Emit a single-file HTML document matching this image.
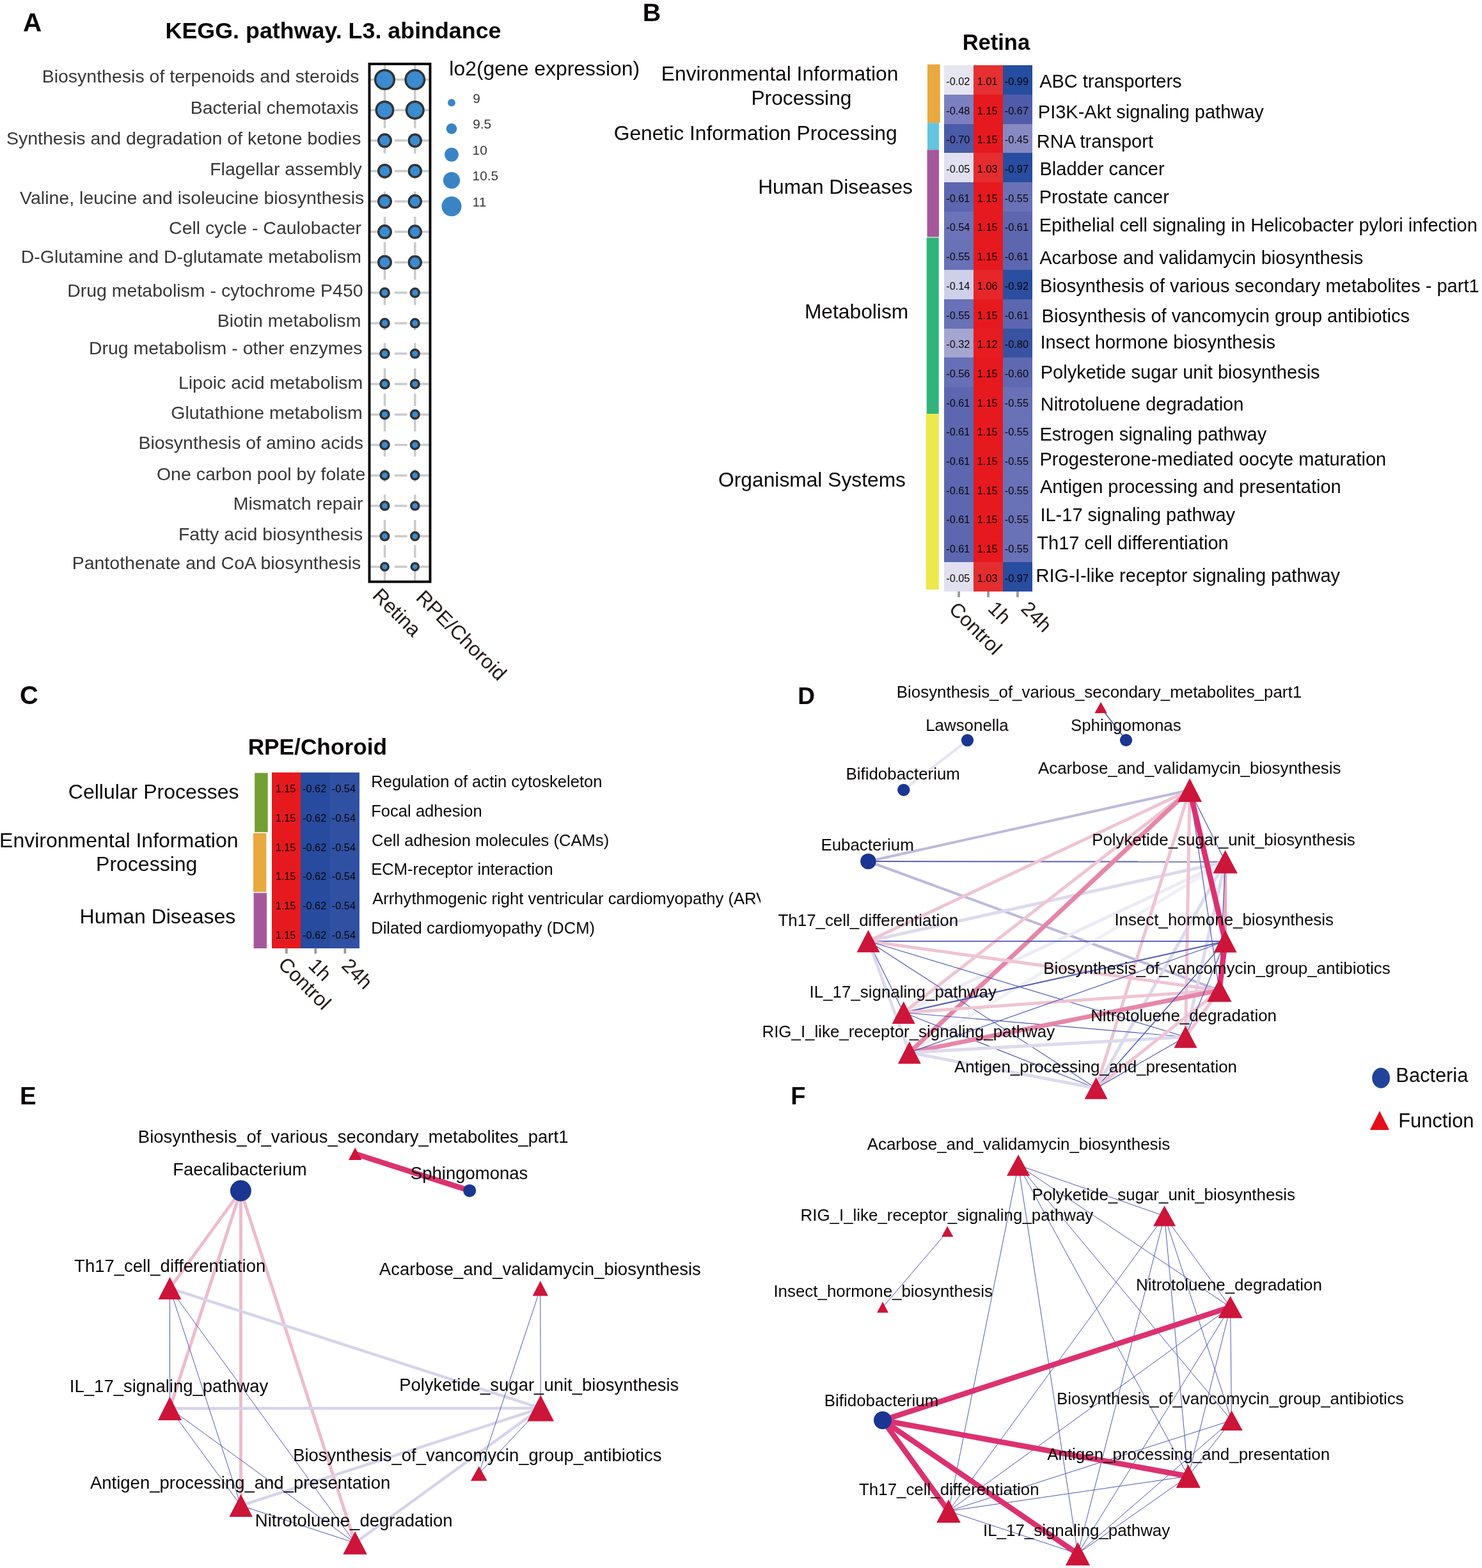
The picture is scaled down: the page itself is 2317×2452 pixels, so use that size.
<!DOCTYPE html>
<html><head><meta charset="utf-8"><title>KEGG pathway figure</title>
<style>
html,body{margin:0;padding:0;background:#fff;}
body{width:2317px;height:2452px;overflow:hidden;}
svg{display:block;font-family:"Liberation Sans",Arial,sans-serif;}
</style></head>
<body>
<svg width="2317" height="2452" viewBox="0 0 2317 2452">
<rect width="2317" height="2452" fill="#fff"/>
<text x="35.99" y="49.00" font-size="40.50" fill="#0a0606" font-weight="bold">A</text>
<text x="1004.86" y="32.80" font-size="39.50" fill="#0a0606" font-weight="bold">B</text>
<text x="30.96" y="1101.00" font-size="40.00" fill="#0a0606" font-weight="bold">C</text>
<text x="1247.22" y="1100.90" font-size="37.00" fill="#0a0606" font-weight="bold">D</text>
<text x="31.02" y="1726.80" font-size="38.50" fill="#0a0606" font-weight="bold">E</text>
<text x="1236.26" y="1726.70" font-size="38.00" fill="#0a0606" font-weight="bold">F</text>
<text x="258.60" y="60.00" font-size="35.85" fill="#0a0606" font-weight="bold">KEGG. pathway. L3. abindance</text>
<g stroke="#cbcbcb" stroke-width="3.5" stroke-dasharray="19.5 20" fill="none">
<line x1="601.50" y1="102.00" x2="601.50" y2="907.70"/>
<line x1="648.80" y1="102.00" x2="648.80" y2="907.70"/>
<line x1="577.50" y1="124.60" x2="670.50" y2="124.60"/>
<line x1="577.50" y1="172.20" x2="670.50" y2="172.20"/>
<line x1="577.50" y1="219.80" x2="670.50" y2="219.80"/>
<line x1="577.50" y1="267.40" x2="670.50" y2="267.40"/>
<line x1="577.50" y1="315.00" x2="670.50" y2="315.00"/>
<line x1="577.50" y1="362.60" x2="670.50" y2="362.60"/>
<line x1="577.50" y1="410.20" x2="670.50" y2="410.20"/>
<line x1="577.50" y1="457.80" x2="670.50" y2="457.80"/>
<line x1="577.50" y1="505.40" x2="670.50" y2="505.40"/>
<line x1="577.50" y1="553.00" x2="670.50" y2="553.00"/>
<line x1="577.50" y1="600.60" x2="670.50" y2="600.60"/>
<line x1="577.50" y1="648.20" x2="670.50" y2="648.20"/>
<line x1="577.50" y1="695.80" x2="670.50" y2="695.80"/>
<line x1="577.50" y1="743.40" x2="670.50" y2="743.40"/>
<line x1="577.50" y1="791.00" x2="670.50" y2="791.00"/>
<line x1="577.50" y1="838.60" x2="670.50" y2="838.60"/>
<line x1="577.50" y1="886.20" x2="670.50" y2="886.20"/>
</g>
<text x="65.66" y="129.00" font-size="28.50" fill="#373737">Biosynthesis of terpenoids and steroids</text>
<circle cx="601.50" cy="124.60" r="14.85" fill="#3a8bcf" stroke="#333333" stroke-width="3.5"/>
<circle cx="648.80" cy="124.60" r="14.75" fill="#3a8bcf" stroke="#333333" stroke-width="3.5"/>
<text x="297.66" y="178.00" font-size="28.50" fill="#373737">Bacterial chemotaxis</text>
<circle cx="601.50" cy="172.20" r="13.25" fill="#3a8bcf" stroke="#333333" stroke-width="3.5"/>
<circle cx="648.80" cy="172.20" r="13.25" fill="#3a8bcf" stroke="#333333" stroke-width="3.5"/>
<text x="9.96" y="226.00" font-size="28.50" fill="#373737">Synthesis and degradation of ketone bodies</text>
<circle cx="601.50" cy="219.80" r="9.75" fill="#3a8bcf" stroke="#333333" stroke-width="3.5"/>
<circle cx="648.80" cy="219.80" r="9.50" fill="#3a8bcf" stroke="#333333" stroke-width="3.5"/>
<text x="328.16" y="274.00" font-size="28.50" fill="#373737">Flagellar assembly</text>
<circle cx="601.50" cy="267.40" r="9.75" fill="#3a8bcf" stroke="#333333" stroke-width="3.5"/>
<circle cx="648.80" cy="267.40" r="9.50" fill="#3a8bcf" stroke="#333333" stroke-width="3.5"/>
<text x="31.12" y="319.00" font-size="28.50" fill="#373737">Valine, leucine and isoleucine biosynthesis</text>
<circle cx="601.50" cy="315.00" r="9.75" fill="#3a8bcf" stroke="#333333" stroke-width="3.5"/>
<circle cx="648.80" cy="315.00" r="9.50" fill="#3a8bcf" stroke="#333333" stroke-width="3.5"/>
<text x="264.05" y="366.00" font-size="28.50" fill="#373737">Cell cycle - Caulobacter</text>
<circle cx="601.50" cy="362.60" r="9.75" fill="#3a8bcf" stroke="#333333" stroke-width="3.5"/>
<circle cx="648.80" cy="362.60" r="9.50" fill="#3a8bcf" stroke="#333333" stroke-width="3.5"/>
<text x="32.66" y="411.25" font-size="28.50" fill="#373737">D-Glutamine and D-glutamate metabolism</text>
<circle cx="601.50" cy="410.20" r="9.75" fill="#3a8bcf" stroke="#333333" stroke-width="3.5"/>
<circle cx="648.80" cy="410.20" r="9.50" fill="#3a8bcf" stroke="#333333" stroke-width="3.5"/>
<text x="105.16" y="463.75" font-size="28.50" fill="#373737">Drug metabolism - cytochrome P450</text>
<circle cx="601.50" cy="457.80" r="6.75" fill="#3a8bcf" stroke="#333333" stroke-width="3.5"/>
<circle cx="648.80" cy="457.80" r="6.50" fill="#3a8bcf" stroke="#333333" stroke-width="3.5"/>
<text x="339.66" y="511.25" font-size="28.50" fill="#373737">Biotin metabolism</text>
<circle cx="601.50" cy="505.40" r="6.55" fill="#3a8bcf" stroke="#333333" stroke-width="3.5"/>
<circle cx="648.80" cy="505.40" r="6.35" fill="#3a8bcf" stroke="#333333" stroke-width="3.5"/>
<text x="138.91" y="553.75" font-size="28.50" fill="#373737">Drug metabolism - other enzymes</text>
<circle cx="601.50" cy="553.00" r="6.55" fill="#3a8bcf" stroke="#333333" stroke-width="3.5"/>
<circle cx="648.80" cy="553.00" r="6.35" fill="#3a8bcf" stroke="#333333" stroke-width="3.5"/>
<text x="278.91" y="607.50" font-size="28.50" fill="#373737">Lipoic acid metabolism</text>
<circle cx="601.50" cy="600.60" r="6.55" fill="#3a8bcf" stroke="#333333" stroke-width="3.5"/>
<circle cx="648.80" cy="600.60" r="6.35" fill="#3a8bcf" stroke="#333333" stroke-width="3.5"/>
<text x="267.32" y="654.50" font-size="28.50" fill="#373737">Glutathione metabolism</text>
<circle cx="601.50" cy="648.20" r="6.55" fill="#3a8bcf" stroke="#333333" stroke-width="3.5"/>
<circle cx="648.80" cy="648.20" r="6.35" fill="#3a8bcf" stroke="#333333" stroke-width="3.5"/>
<text x="216.41" y="701.75" font-size="28.50" fill="#373737">Biosynthesis of amino acids</text>
<circle cx="601.50" cy="695.80" r="6.55" fill="#3a8bcf" stroke="#333333" stroke-width="3.5"/>
<circle cx="648.80" cy="695.80" r="6.35" fill="#3a8bcf" stroke="#333333" stroke-width="3.5"/>
<text x="244.90" y="751.25" font-size="28.50" fill="#373737">One carbon pool by folate</text>
<circle cx="601.50" cy="743.40" r="6.25" fill="#3a8bcf" stroke="#333333" stroke-width="3.5"/>
<circle cx="648.80" cy="743.40" r="6.05" fill="#3a8bcf" stroke="#333333" stroke-width="3.5"/>
<text x="364.66" y="797.00" font-size="28.50" fill="#373737">Mismatch repair</text>
<circle cx="601.50" cy="791.00" r="6.25" fill="#3a8bcf" stroke="#333333" stroke-width="3.5"/>
<circle cx="648.80" cy="791.00" r="6.05" fill="#3a8bcf" stroke="#333333" stroke-width="3.5"/>
<text x="278.91" y="844.50" font-size="28.50" fill="#373737">Fatty acid biosynthesis</text>
<circle cx="601.50" cy="838.60" r="6.25" fill="#3a8bcf" stroke="#333333" stroke-width="3.5"/>
<circle cx="648.80" cy="838.60" r="6.05" fill="#3a8bcf" stroke="#333333" stroke-width="3.5"/>
<text x="112.66" y="889.50" font-size="28.50" fill="#373737">Pantothenate and CoA biosynthesis</text>
<circle cx="601.50" cy="886.20" r="5.75" fill="#3a8bcf" stroke="#333333" stroke-width="3.5"/>
<circle cx="648.80" cy="886.20" r="5.55" fill="#3a8bcf" stroke="#333333" stroke-width="3.5"/>
<rect x="577.50" y="100.00" width="95.00" height="809.70" fill="none" stroke="#000" stroke-width="3.9"/>
<text x="702.35" y="118.40" font-size="31.90" fill="#0a0606">lo2(gene expression)</text>
<circle cx="706" cy="160.60" r="5.95" fill="#3a84c6"/>
<text x="739.23" y="160.60" font-size="20.80" fill="#373737">9</text>
<circle cx="706" cy="201.30" r="8.35" fill="#3a84c6"/>
<text x="739.23" y="201.30" font-size="20.80" fill="#373737">9.5</text>
<circle cx="706" cy="241.80" r="10.90" fill="#3a84c6"/>
<text x="738.62" y="241.80" font-size="20.80" fill="#373737">10</text>
<circle cx="706" cy="282.00" r="13.10" fill="#3a84c6"/>
<text x="738.62" y="282.00" font-size="20.80" fill="#373737">10.5</text>
<circle cx="706" cy="322.80" r="15.50" fill="#3a84c6"/>
<text x="738.62" y="322.80" font-size="20.80" fill="#373737">11</text>
<text x="0" y="0" font-size="31.50" fill="#231815" transform="translate(580.80 933.10) rotate(45.0)">Retina</text>
<text x="0" y="0" font-size="31.50" fill="#231815" transform="translate(648.80 936.20) rotate(45.0)">RPE/Choroid</text>
<text x="1504.69" y="78.40" font-size="34.50" fill="#0a0606" font-weight="bold">Retina</text>
<rect x="1476.20" y="102.20" width="46.40" height="46.30" fill="#e6e6f3" shape-rendering="crispEdges"/>
<rect x="1522.00" y="102.20" width="46.50" height="46.30" fill="#e63032" shape-rendering="crispEdges"/>
<rect x="1567.90" y="102.20" width="46.20" height="46.30" fill="#264da0" shape-rendering="crispEdges"/>
<rect x="1476.20" y="147.90" width="46.40" height="46.30" fill="#7d80c0" shape-rendering="crispEdges"/>
<rect x="1522.00" y="147.90" width="46.50" height="46.30" fill="#e6191e" shape-rendering="crispEdges"/>
<rect x="1567.90" y="147.90" width="46.20" height="46.30" fill="#505caa" shape-rendering="crispEdges"/>
<rect x="1476.20" y="193.60" width="46.40" height="46.30" fill="#4a5ba8" shape-rendering="crispEdges"/>
<rect x="1522.00" y="193.60" width="46.50" height="46.30" fill="#e6191e" shape-rendering="crispEdges"/>
<rect x="1567.90" y="193.60" width="46.20" height="46.30" fill="#8689c2" shape-rendering="crispEdges"/>
<rect x="1476.20" y="239.30" width="46.40" height="46.30" fill="#e0e0f0" shape-rendering="crispEdges"/>
<rect x="1522.00" y="239.30" width="46.50" height="46.30" fill="#e52c2f" shape-rendering="crispEdges"/>
<rect x="1567.90" y="239.30" width="46.20" height="46.30" fill="#284da0" shape-rendering="crispEdges"/>
<rect x="1476.20" y="285.00" width="46.40" height="46.30" fill="#5c67b0" shape-rendering="crispEdges"/>
<rect x="1522.00" y="285.00" width="46.50" height="46.30" fill="#e6191e" shape-rendering="crispEdges"/>
<rect x="1567.90" y="285.00" width="46.20" height="46.30" fill="#6971b7" shape-rendering="crispEdges"/>
<rect x="1476.20" y="330.70" width="46.40" height="46.30" fill="#6c73b8" shape-rendering="crispEdges"/>
<rect x="1522.00" y="330.70" width="46.50" height="46.30" fill="#e6191e" shape-rendering="crispEdges"/>
<rect x="1567.90" y="330.70" width="46.20" height="46.30" fill="#5c67b0" shape-rendering="crispEdges"/>
<rect x="1476.20" y="376.40" width="46.40" height="46.30" fill="#6971b7" shape-rendering="crispEdges"/>
<rect x="1522.00" y="376.40" width="46.50" height="46.30" fill="#e6191e" shape-rendering="crispEdges"/>
<rect x="1567.90" y="376.40" width="46.20" height="46.30" fill="#5c67b0" shape-rendering="crispEdges"/>
<rect x="1476.20" y="422.10" width="46.40" height="46.30" fill="#cecfe8" shape-rendering="crispEdges"/>
<rect x="1522.00" y="422.10" width="46.50" height="46.30" fill="#e62628" shape-rendering="crispEdges"/>
<rect x="1567.90" y="422.10" width="46.20" height="46.30" fill="#2c4ea0" shape-rendering="crispEdges"/>
<rect x="1476.20" y="467.80" width="46.40" height="46.30" fill="#6971b7" shape-rendering="crispEdges"/>
<rect x="1522.00" y="467.80" width="46.50" height="46.30" fill="#e6191e" shape-rendering="crispEdges"/>
<rect x="1567.90" y="467.80" width="46.20" height="46.30" fill="#5c67b0" shape-rendering="crispEdges"/>
<rect x="1476.20" y="513.50" width="46.40" height="46.30" fill="#a5a5d2" shape-rendering="crispEdges"/>
<rect x="1522.00" y="513.50" width="46.50" height="46.30" fill="#e61c20" shape-rendering="crispEdges"/>
<rect x="1567.90" y="513.50" width="46.20" height="46.30" fill="#3853a2" shape-rendering="crispEdges"/>
<rect x="1476.20" y="559.20" width="46.40" height="46.30" fill="#676fb6" shape-rendering="crispEdges"/>
<rect x="1522.00" y="559.20" width="46.50" height="46.30" fill="#e6191e" shape-rendering="crispEdges"/>
<rect x="1567.90" y="559.20" width="46.20" height="46.30" fill="#5e69b1" shape-rendering="crispEdges"/>
<rect x="1476.20" y="604.90" width="46.40" height="46.30" fill="#5c67b0" shape-rendering="crispEdges"/>
<rect x="1522.00" y="604.90" width="46.50" height="46.30" fill="#e6191e" shape-rendering="crispEdges"/>
<rect x="1567.90" y="604.90" width="46.20" height="46.30" fill="#6971b7" shape-rendering="crispEdges"/>
<rect x="1476.20" y="650.60" width="46.40" height="46.30" fill="#5c67b0" shape-rendering="crispEdges"/>
<rect x="1522.00" y="650.60" width="46.50" height="46.30" fill="#e6191e" shape-rendering="crispEdges"/>
<rect x="1567.90" y="650.60" width="46.20" height="46.30" fill="#6971b7" shape-rendering="crispEdges"/>
<rect x="1476.20" y="696.30" width="46.40" height="46.30" fill="#5c67b0" shape-rendering="crispEdges"/>
<rect x="1522.00" y="696.30" width="46.50" height="46.30" fill="#e6191e" shape-rendering="crispEdges"/>
<rect x="1567.90" y="696.30" width="46.20" height="46.30" fill="#6971b7" shape-rendering="crispEdges"/>
<rect x="1476.20" y="742.00" width="46.40" height="46.30" fill="#5c67b0" shape-rendering="crispEdges"/>
<rect x="1522.00" y="742.00" width="46.50" height="46.30" fill="#e6191e" shape-rendering="crispEdges"/>
<rect x="1567.90" y="742.00" width="46.20" height="46.30" fill="#6971b7" shape-rendering="crispEdges"/>
<rect x="1476.20" y="787.70" width="46.40" height="46.30" fill="#5c67b0" shape-rendering="crispEdges"/>
<rect x="1522.00" y="787.70" width="46.50" height="46.30" fill="#e6191e" shape-rendering="crispEdges"/>
<rect x="1567.90" y="787.70" width="46.20" height="46.30" fill="#6971b7" shape-rendering="crispEdges"/>
<rect x="1476.20" y="833.40" width="46.40" height="46.30" fill="#5c67b0" shape-rendering="crispEdges"/>
<rect x="1522.00" y="833.40" width="46.50" height="46.30" fill="#e6191e" shape-rendering="crispEdges"/>
<rect x="1567.90" y="833.40" width="46.20" height="46.30" fill="#6971b7" shape-rendering="crispEdges"/>
<rect x="1476.20" y="879.10" width="46.40" height="46.30" fill="#e0e0f0" shape-rendering="crispEdges"/>
<rect x="1522.00" y="879.10" width="46.50" height="46.30" fill="#e52c2f" shape-rendering="crispEdges"/>
<rect x="1567.90" y="879.10" width="46.20" height="46.30" fill="#284da0" shape-rendering="crispEdges"/>
<text x="1497.80" y="132.95" font-size="16.3" text-anchor="middle" fill="#0a0606">-0.02</text>
<text x="1543.65" y="132.95" font-size="16.3" text-anchor="middle" fill="#0a0606">1.01</text>
<text x="1589.40" y="132.95" font-size="16.3" text-anchor="middle" fill="#0a0606">-0.99</text>
<text x="1497.80" y="178.65" font-size="16.3" text-anchor="middle" fill="#0a0606">-0.48</text>
<text x="1543.65" y="178.65" font-size="16.3" text-anchor="middle" fill="#0a0606">1.15</text>
<text x="1589.40" y="178.65" font-size="16.3" text-anchor="middle" fill="#0a0606">-0.67</text>
<text x="1497.80" y="224.35" font-size="16.3" text-anchor="middle" fill="#0a0606">-0.70</text>
<text x="1543.65" y="224.35" font-size="16.3" text-anchor="middle" fill="#0a0606">1.15</text>
<text x="1589.40" y="224.35" font-size="16.3" text-anchor="middle" fill="#0a0606">-0.45</text>
<text x="1497.80" y="270.05" font-size="16.3" text-anchor="middle" fill="#0a0606">-0.05</text>
<text x="1543.65" y="270.05" font-size="16.3" text-anchor="middle" fill="#0a0606">1.03</text>
<text x="1589.40" y="270.05" font-size="16.3" text-anchor="middle" fill="#0a0606">-0.97</text>
<text x="1497.80" y="315.75" font-size="16.3" text-anchor="middle" fill="#0a0606">-0.61</text>
<text x="1543.65" y="315.75" font-size="16.3" text-anchor="middle" fill="#0a0606">1.15</text>
<text x="1589.40" y="315.75" font-size="16.3" text-anchor="middle" fill="#0a0606">-0.55</text>
<text x="1497.80" y="361.45" font-size="16.3" text-anchor="middle" fill="#0a0606">-0.54</text>
<text x="1543.65" y="361.45" font-size="16.3" text-anchor="middle" fill="#0a0606">1.15</text>
<text x="1589.40" y="361.45" font-size="16.3" text-anchor="middle" fill="#0a0606">-0.61</text>
<text x="1497.80" y="407.15" font-size="16.3" text-anchor="middle" fill="#0a0606">-0.55</text>
<text x="1543.65" y="407.15" font-size="16.3" text-anchor="middle" fill="#0a0606">1.15</text>
<text x="1589.40" y="407.15" font-size="16.3" text-anchor="middle" fill="#0a0606">-0.61</text>
<text x="1497.80" y="452.85" font-size="16.3" text-anchor="middle" fill="#0a0606">-0.14</text>
<text x="1543.65" y="452.85" font-size="16.3" text-anchor="middle" fill="#0a0606">1.06</text>
<text x="1589.40" y="452.85" font-size="16.3" text-anchor="middle" fill="#0a0606">-0.92</text>
<text x="1497.80" y="498.55" font-size="16.3" text-anchor="middle" fill="#0a0606">-0.55</text>
<text x="1543.65" y="498.55" font-size="16.3" text-anchor="middle" fill="#0a0606">1.15</text>
<text x="1589.40" y="498.55" font-size="16.3" text-anchor="middle" fill="#0a0606">-0.61</text>
<text x="1497.80" y="544.25" font-size="16.3" text-anchor="middle" fill="#0a0606">-0.32</text>
<text x="1543.65" y="544.25" font-size="16.3" text-anchor="middle" fill="#0a0606">1.12</text>
<text x="1589.40" y="544.25" font-size="16.3" text-anchor="middle" fill="#0a0606">-0.80</text>
<text x="1497.80" y="589.95" font-size="16.3" text-anchor="middle" fill="#0a0606">-0.56</text>
<text x="1543.65" y="589.95" font-size="16.3" text-anchor="middle" fill="#0a0606">1.15</text>
<text x="1589.40" y="589.95" font-size="16.3" text-anchor="middle" fill="#0a0606">-0.60</text>
<text x="1497.80" y="635.65" font-size="16.3" text-anchor="middle" fill="#0a0606">-0.61</text>
<text x="1543.65" y="635.65" font-size="16.3" text-anchor="middle" fill="#0a0606">1.15</text>
<text x="1589.40" y="635.65" font-size="16.3" text-anchor="middle" fill="#0a0606">-0.55</text>
<text x="1497.80" y="681.35" font-size="16.3" text-anchor="middle" fill="#0a0606">-0.61</text>
<text x="1543.65" y="681.35" font-size="16.3" text-anchor="middle" fill="#0a0606">1.15</text>
<text x="1589.40" y="681.35" font-size="16.3" text-anchor="middle" fill="#0a0606">-0.55</text>
<text x="1497.80" y="727.05" font-size="16.3" text-anchor="middle" fill="#0a0606">-0.61</text>
<text x="1543.65" y="727.05" font-size="16.3" text-anchor="middle" fill="#0a0606">1.15</text>
<text x="1589.40" y="727.05" font-size="16.3" text-anchor="middle" fill="#0a0606">-0.55</text>
<text x="1497.80" y="772.75" font-size="16.3" text-anchor="middle" fill="#0a0606">-0.61</text>
<text x="1543.65" y="772.75" font-size="16.3" text-anchor="middle" fill="#0a0606">1.15</text>
<text x="1589.40" y="772.75" font-size="16.3" text-anchor="middle" fill="#0a0606">-0.55</text>
<text x="1497.80" y="818.45" font-size="16.3" text-anchor="middle" fill="#0a0606">-0.61</text>
<text x="1543.65" y="818.45" font-size="16.3" text-anchor="middle" fill="#0a0606">1.15</text>
<text x="1589.40" y="818.45" font-size="16.3" text-anchor="middle" fill="#0a0606">-0.55</text>
<text x="1497.80" y="864.15" font-size="16.3" text-anchor="middle" fill="#0a0606">-0.61</text>
<text x="1543.65" y="864.15" font-size="16.3" text-anchor="middle" fill="#0a0606">1.15</text>
<text x="1589.40" y="864.15" font-size="16.3" text-anchor="middle" fill="#0a0606">-0.55</text>
<text x="1497.80" y="909.85" font-size="16.3" text-anchor="middle" fill="#0a0606">-0.05</text>
<text x="1543.65" y="909.85" font-size="16.3" text-anchor="middle" fill="#0a0606">1.03</text>
<text x="1589.40" y="909.85" font-size="16.3" text-anchor="middle" fill="#0a0606">-0.97</text>
<text x="1625.14" y="137.00" font-size="29.00" fill="#0a0606">ABC transporters</text>
<text x="1622.82" y="185.30" font-size="29.00" fill="#0a0606">PI3K-Akt signaling pathway</text>
<text x="1620.82" y="231.20" font-size="29.00" fill="#0a0606">RNA transport</text>
<text x="1625.52" y="273.70" font-size="29.00" fill="#0a0606">Bladder cancer</text>
<text x="1624.72" y="317.70" font-size="29.00" fill="#0a0606">Prostate cancer</text>
<text x="1624.72" y="361.70" font-size="29.00" fill="#0a0606">Epithelial cell signaling in Helicobacter pylori infection</text>
<text x="1625.14" y="412.70" font-size="29.00" fill="#0a0606">Acarbose and validamycin biosynthesis</text>
<text x="1625.92" y="457.10" font-size="29.00" fill="#0a0606">Biosynthesis of various secondary metabolites - part1</text>
<text x="1628.62" y="504.30" font-size="29.00" fill="#0a0606">Biosynthesis of vancomycin group antibiotics</text>
<text x="1626.42" y="544.50" font-size="29.00" fill="#0a0606">Insect hormone biosynthesis</text>
<text x="1626.72" y="591.90" font-size="29.00" fill="#0a0606">Polyketide sugar unit biosynthesis</text>
<text x="1626.72" y="641.80" font-size="29.00" fill="#0a0606">Nitrotoluene degradation</text>
<text x="1625.52" y="688.90" font-size="29.00" fill="#0a0606">Estrogen signaling pathway</text>
<text x="1625.52" y="728.20" font-size="29.00" fill="#0a0606">Progesterone-mediated oocyte maturation</text>
<text x="1625.94" y="771.40" font-size="29.00" fill="#0a0606">Antigen processing and presentation</text>
<text x="1626.42" y="815.40" font-size="29.00" fill="#0a0606">IL-17 signaling pathway</text>
<text x="1621.35" y="858.60" font-size="29.00" fill="#0a0606">Th17 cell differentiation</text>
<text x="1619.62" y="910.10" font-size="29.00" fill="#0a0606">RIG-I-like receptor signaling pathway</text>
<rect x="1450.00" y="100.70" width="19.70" height="91.50" fill="#e8a93e"/>
<rect x="1450.00" y="192.20" width="18.00" height="42.10" fill="#63c5de"/>
<rect x="1449.50" y="234.30" width="18.50" height="136.20" fill="#a6579b"/>
<rect x="1448.80" y="371.60" width="18.90" height="275.40" fill="#2fb47a"/>
<rect x="1447.60" y="647.00" width="20.20" height="274.90" fill="#ece94c"/>
<text x="1033.80" y="126.10" font-size="31.75" fill="#0a0606">Environmental Information</text>
<text x="1174.40" y="164.20" font-size="31.75" fill="#0a0606">Processing</text>
<text x="959.70" y="219.40" font-size="31.75" fill="#0a0606">Genetic Information Processing</text>
<text x="1185.20" y="303.00" font-size="31.75" fill="#0a0606">Human Diseases</text>
<text x="1257.90" y="498.40" font-size="31.75" fill="#0a0606">Metabolism</text>
<text x="1123.10" y="760.60" font-size="31.75" fill="#0a0606">Organismal Systems</text>
<rect x="1497.20" y="924.9" width="3.8" height="9" fill="#9a9a9a"/>
<rect x="1543.20" y="924.9" width="3.8" height="9" fill="#9a9a9a"/>
<rect x="1589.00" y="924.9" width="3.8" height="9" fill="#9a9a9a"/>
<text x="0" y="0" font-size="31.30" fill="#231815" transform="translate(1482.00 954.50) rotate(45.0)">Control</text>
<text x="0" y="0" font-size="31.30" fill="#231815" transform="translate(1543.00 953.30) rotate(45.0)">1h</text>
<text x="0" y="0" font-size="31.30" fill="#231815" transform="translate(1594.50 953.60) rotate(45.0)">24h</text>
<text x="387.64" y="1179.60" font-size="35.25" fill="#0a0606" font-weight="bold">RPE/Choroid</text>
<rect x="425.30" y="1208.10" width="45.60" height="46.35" fill="#e6191e" shape-rendering="crispEdges"/>
<rect x="470.30" y="1208.10" width="45.90" height="46.35" fill="#274b9f" shape-rendering="crispEdges"/>
<rect x="515.60" y="1208.10" width="46.80" height="46.35" fill="#3050a2" shape-rendering="crispEdges"/>
<rect x="425.30" y="1253.85" width="45.60" height="46.35" fill="#e6191e" shape-rendering="crispEdges"/>
<rect x="470.30" y="1253.85" width="45.90" height="46.35" fill="#274b9f" shape-rendering="crispEdges"/>
<rect x="515.60" y="1253.85" width="46.80" height="46.35" fill="#3050a2" shape-rendering="crispEdges"/>
<rect x="425.30" y="1299.60" width="45.60" height="46.35" fill="#e6191e" shape-rendering="crispEdges"/>
<rect x="470.30" y="1299.60" width="45.90" height="46.35" fill="#274b9f" shape-rendering="crispEdges"/>
<rect x="515.60" y="1299.60" width="46.80" height="46.35" fill="#3050a2" shape-rendering="crispEdges"/>
<rect x="425.30" y="1345.35" width="45.60" height="46.35" fill="#e6191e" shape-rendering="crispEdges"/>
<rect x="470.30" y="1345.35" width="45.90" height="46.35" fill="#274b9f" shape-rendering="crispEdges"/>
<rect x="515.60" y="1345.35" width="46.80" height="46.35" fill="#3050a2" shape-rendering="crispEdges"/>
<rect x="425.30" y="1391.10" width="45.60" height="46.35" fill="#e6191e" shape-rendering="crispEdges"/>
<rect x="470.30" y="1391.10" width="45.90" height="46.35" fill="#274b9f" shape-rendering="crispEdges"/>
<rect x="515.60" y="1391.10" width="46.80" height="46.35" fill="#3050a2" shape-rendering="crispEdges"/>
<rect x="425.30" y="1436.85" width="45.60" height="46.35" fill="#e6191e" shape-rendering="crispEdges"/>
<rect x="470.30" y="1436.85" width="45.90" height="46.35" fill="#274b9f" shape-rendering="crispEdges"/>
<rect x="515.60" y="1436.85" width="46.80" height="46.35" fill="#3050a2" shape-rendering="crispEdges"/>
<text x="446.50" y="1239.17" font-size="16.3" text-anchor="middle" fill="#0a0606">1.15</text>
<text x="491.65" y="1239.17" font-size="16.3" text-anchor="middle" fill="#0a0606">-0.62</text>
<text x="537.40" y="1239.17" font-size="16.3" text-anchor="middle" fill="#0a0606">-0.54</text>
<text x="446.50" y="1284.92" font-size="16.3" text-anchor="middle" fill="#0a0606">1.15</text>
<text x="491.65" y="1284.92" font-size="16.3" text-anchor="middle" fill="#0a0606">-0.62</text>
<text x="537.40" y="1284.92" font-size="16.3" text-anchor="middle" fill="#0a0606">-0.54</text>
<text x="446.50" y="1330.67" font-size="16.3" text-anchor="middle" fill="#0a0606">1.15</text>
<text x="491.65" y="1330.67" font-size="16.3" text-anchor="middle" fill="#0a0606">-0.62</text>
<text x="537.40" y="1330.67" font-size="16.3" text-anchor="middle" fill="#0a0606">-0.54</text>
<text x="446.50" y="1376.42" font-size="16.3" text-anchor="middle" fill="#0a0606">1.15</text>
<text x="491.65" y="1376.42" font-size="16.3" text-anchor="middle" fill="#0a0606">-0.62</text>
<text x="537.40" y="1376.42" font-size="16.3" text-anchor="middle" fill="#0a0606">-0.54</text>
<text x="446.50" y="1422.17" font-size="16.3" text-anchor="middle" fill="#0a0606">1.15</text>
<text x="491.65" y="1422.17" font-size="16.3" text-anchor="middle" fill="#0a0606">-0.62</text>
<text x="537.40" y="1422.17" font-size="16.3" text-anchor="middle" fill="#0a0606">-0.54</text>
<text x="446.50" y="1467.92" font-size="16.3" text-anchor="middle" fill="#0a0606">1.15</text>
<text x="491.65" y="1467.92" font-size="16.3" text-anchor="middle" fill="#0a0606">-0.62</text>
<text x="537.40" y="1467.92" font-size="16.3" text-anchor="middle" fill="#0a0606">-0.54</text>
<rect x="398.20" y="1208.70" width="20.50" height="92.60" fill="#73a033"/>
<rect x="396.00" y="1302.90" width="20.40" height="91.90" fill="#e8a93e"/>
<rect x="396.60" y="1396.40" width="20.40" height="86.60" fill="#a6579b"/>
<text x="106.78" y="1249.00" font-size="32.00" fill="#0a0606">Cellular Processes</text>
<text x="-0.98" y="1325.10" font-size="32.00" fill="#0a0606">Environmental Information</text>
<text x="150.07" y="1362.40" font-size="32.00" fill="#0a0606">Processing</text>
<text x="124.58" y="1444.00" font-size="32.00" fill="#0a0606">Human Diseases</text>
<defs><clipPath id="clipC"><rect x="0" y="1000" width="1189" height="600"/></clipPath></defs>
<g clip-path="url(#clipC)">
<text x="580.20" y="1231.00" font-size="25.60" fill="#0a0606">Regulation of actin cytoskeleton</text>
<text x="580.20" y="1276.75" font-size="25.60" fill="#0a0606">Focal adhesion</text>
<text x="581.00" y="1322.50" font-size="25.60" fill="#0a0606">Cell adhesion molecules (CAMs)</text>
<text x="580.20" y="1368.25" font-size="25.60" fill="#0a0606">ECM-receptor interaction</text>
<text x="582.25" y="1414.00" font-size="25.60" fill="#0a0606">Arrhythmogenic right ventricular cardiomyopathy (ARVC)</text>
<text x="580.20" y="1459.75" font-size="25.60" fill="#0a0606">Dilated cardiomyopathy (DCM)</text>
</g>
<rect x="445.90" y="1482.6" width="3.8" height="8.7" fill="#9a9a9a"/>
<rect x="491.50" y="1482.6" width="3.8" height="8.7" fill="#9a9a9a"/>
<rect x="537.50" y="1482.6" width="3.8" height="8.7" fill="#9a9a9a"/>
<text x="0" y="0" font-size="31.30" fill="#231815" transform="translate(433.20 1509.70) rotate(45.0)">Control</text>
<text x="0" y="0" font-size="31.30" fill="#231815" transform="translate(480.60 1511.50) rotate(45.0)">1h</text>
<text x="0" y="0" font-size="31.30" fill="#231815" transform="translate(532.50 1511.80) rotate(45.0)">24h</text>
<line x1="1721.10" y1="1106.40" x2="1760.50" y2="1157.50" stroke="#4f5ab3" stroke-width="1.60"/>
<line x1="1512.50" y1="1157.60" x2="1412.80" y2="1235.30" stroke="#e6e4f3" stroke-width="4.00"/>
<line x1="1357.40" y1="1347.00" x2="1860.00" y2="1235.40" stroke="#bdb9dd" stroke-width="4.00"/>
<line x1="1357.40" y1="1347.00" x2="1915.60" y2="1347.60" stroke="#5a60b3" stroke-width="2.00"/>
<line x1="1357.40" y1="1347.00" x2="1906.30" y2="1548.70" stroke="#bdb9dd" stroke-width="4.00"/>
<line x1="1915.60" y1="1347.60" x2="1357.50" y2="1471.80" stroke="#dcdaee" stroke-width="5.00"/>
<line x1="1915.60" y1="1347.60" x2="1412.70" y2="1583.50" stroke="#ebeaf5" stroke-width="5.00"/>
<line x1="1915.60" y1="1347.60" x2="1421.80" y2="1645.90" stroke="#f0eff7" stroke-width="5.00"/>
<line x1="1915.60" y1="1347.60" x2="1713.60" y2="1701.80" stroke="#dcdaee" stroke-width="5.00"/>
<line x1="1915.60" y1="1347.60" x2="1853.50" y2="1621.50" stroke="#dcdaee" stroke-width="5.00"/>
<line x1="1860.00" y1="1235.40" x2="1357.50" y2="1471.80" stroke="#efc4d3" stroke-width="5.00"/>
<line x1="1860.00" y1="1235.40" x2="1412.70" y2="1583.50" stroke="#efc4d3" stroke-width="5.00"/>
<line x1="1860.00" y1="1235.40" x2="1421.80" y2="1645.90" stroke="#e586a9" stroke-width="7.00"/>
<line x1="1860.00" y1="1235.40" x2="1713.60" y2="1701.80" stroke="#efc4d3" stroke-width="5.00"/>
<line x1="1860.00" y1="1235.40" x2="1853.50" y2="1621.50" stroke="#efc4d3" stroke-width="5.00"/>
<line x1="1860.00" y1="1235.40" x2="1915.60" y2="1347.60" stroke="#4f5ab3" stroke-width="1.20"/>
<line x1="1860.00" y1="1235.40" x2="1906.30" y2="1548.70" stroke="#4f5ab3" stroke-width="1.20"/>
<line x1="1357.50" y1="1471.80" x2="1915.60" y2="1472.00" stroke="#4f5ab3" stroke-width="1.80"/>
<line x1="1357.50" y1="1471.80" x2="1906.30" y2="1548.70" stroke="#efc4d3" stroke-width="5.00"/>
<line x1="1357.50" y1="1471.80" x2="1853.50" y2="1621.50" stroke="#4f5ab3" stroke-width="1.20"/>
<line x1="1357.50" y1="1471.80" x2="1713.60" y2="1701.80" stroke="#4f5ab3" stroke-width="1.20"/>
<line x1="1357.50" y1="1471.80" x2="1412.70" y2="1583.50" stroke="#4f5ab3" stroke-width="1.20"/>
<line x1="1357.50" y1="1471.80" x2="1421.80" y2="1645.90" stroke="#dcdaee" stroke-width="4.50"/>
<line x1="1412.70" y1="1583.50" x2="1915.60" y2="1472.00" stroke="#4f5ab3" stroke-width="2.00"/>
<line x1="1412.70" y1="1583.50" x2="1906.30" y2="1548.70" stroke="#efc4d3" stroke-width="5.00"/>
<line x1="1412.70" y1="1583.50" x2="1853.50" y2="1621.50" stroke="#4f5ab3" stroke-width="1.20"/>
<line x1="1412.70" y1="1583.50" x2="1713.60" y2="1701.80" stroke="#4f5ab3" stroke-width="1.20"/>
<line x1="1421.80" y1="1645.90" x2="1906.30" y2="1548.70" stroke="#e586a9" stroke-width="7.00"/>
<line x1="1421.80" y1="1645.90" x2="1853.50" y2="1621.50" stroke="#dcdaee" stroke-width="5.00"/>
<line x1="1421.80" y1="1645.90" x2="1713.60" y2="1701.80" stroke="#dcdaee" stroke-width="5.00"/>
<line x1="1421.80" y1="1645.90" x2="1915.60" y2="1472.00" stroke="#4f5ab3" stroke-width="1.20"/>
<line x1="1713.60" y1="1701.80" x2="1915.60" y2="1472.00" stroke="#4f5ab3" stroke-width="1.50"/>
<line x1="1713.60" y1="1701.80" x2="1906.30" y2="1548.70" stroke="#efc4d3" stroke-width="5.00"/>
<line x1="1713.60" y1="1701.80" x2="1853.50" y2="1621.50" stroke="#4f5ab3" stroke-width="1.20"/>
<line x1="1853.50" y1="1621.50" x2="1915.60" y2="1472.00" stroke="#4f5ab3" stroke-width="1.20"/>
<line x1="1853.50" y1="1621.50" x2="1906.30" y2="1548.70" stroke="#efc4d3" stroke-width="5.00"/>
<line x1="1915.60" y1="1347.60" x2="1915.60" y2="1472.00" stroke="#eba6bd" stroke-width="5.00"/>
<line x1="1915.60" y1="1347.60" x2="1906.30" y2="1548.70" stroke="#4f5ab3" stroke-width="1.20"/>
<line x1="1860.00" y1="1235.40" x2="1915.60" y2="1472.00" stroke="#dc3171" stroke-width="8.50"/>
<line x1="1915.60" y1="1472.00" x2="1906.30" y2="1548.70" stroke="#dc3171" stroke-width="8.50"/>
<text x="1401.78" y="1091.00" font-size="25.90" fill="#0a0606">Biosynthesis_of_various_secondary_metabolites_part1</text>
<text x="1447.18" y="1142.50" font-size="25.90" fill="#0a0606">Lawsonella</text>
<text x="1673.92" y="1142.50" font-size="25.90" fill="#0a0606">Sphingomonas</text>
<text x="1322.48" y="1219.30" font-size="25.90" fill="#0a0606">Bifidobacterium</text>
<text x="1622.95" y="1210.30" font-size="25.90" fill="#0a0606">Acarbose_and_validamycin_biosynthesis</text>
<text x="1283.38" y="1329.60" font-size="25.90" fill="#0a0606">Eubacterium</text>
<text x="1707.18" y="1321.60" font-size="25.90" fill="#0a0606">Polyketide_sugar_unit_biosynthesis</text>
<text x="1216.52" y="1447.70" font-size="25.90" fill="#0a0606">Th17_cell_differentiation</text>
<text x="1742.41" y="1447.00" font-size="25.90" fill="#0a0606">Insect_hormone_biosynthesis</text>
<text x="1631.18" y="1522.70" font-size="25.90" fill="#0a0606">Biosynthesis_of_vancomycin_group_antibiotics</text>
<text x="1265.61" y="1559.60" font-size="25.90" fill="#0a0606">IL_17_signaling_pathway</text>
<text x="1705.18" y="1596.70" font-size="25.90" fill="#0a0606">Nitrotoluene_degradation</text>
<text x="1191.48" y="1622.00" font-size="25.90" fill="#0a0606">RIG_I_like_receptor_signaling_pathway</text>
<text x="1492.05" y="1677.30" font-size="25.90" fill="#0a0606">Antigen_processing_and_presentation</text>
<polygon points="1721.10,1097.65 1730.85,1115.15 1711.35,1115.15" fill="#cd1439"/>
<circle cx="1512.50" cy="1157.60" r="9.65" fill="#1b3592"/>
<circle cx="1760.50" cy="1157.50" r="9.65" fill="#1b3592"/>
<circle cx="1412.80" cy="1235.30" r="9.65" fill="#1b3592"/>
<circle cx="1357.40" cy="1347.00" r="12.30" fill="#1b3592"/>
<polygon points="1860.00,1216.90 1879.00,1253.90 1841.00,1253.90" fill="#cd1439"/>
<polygon points="1915.60,1329.45 1934.80,1365.75 1896.40,1365.75" fill="#cd1439"/>
<polygon points="1357.50,1454.30 1375.50,1489.30 1339.50,1489.30" fill="#cd1439"/>
<polygon points="1915.60,1454.50 1933.60,1489.50 1897.60,1489.50" fill="#cd1439"/>
<polygon points="1906.30,1530.70 1925.50,1566.70 1887.10,1566.70" fill="#cd1439"/>
<polygon points="1412.70,1566.00 1430.70,1601.00 1394.70,1601.00" fill="#cd1439"/>
<polygon points="1853.50,1604.25 1871.50,1638.75 1835.50,1638.75" fill="#cd1439"/>
<polygon points="1421.80,1628.40 1439.80,1663.40 1403.80,1663.40" fill="#cd1439"/>
<polygon points="1713.60,1684.80 1731.60,1718.80 1695.60,1718.80" fill="#cd1439"/>
<line x1="555.20" y1="1804.30" x2="734.20" y2="1861.90" stroke="#dc3171" stroke-width="8.50"/>
<line x1="376.40" y1="1862.10" x2="265.50" y2="2014.60" stroke="#edbccd" stroke-width="5.00"/>
<line x1="376.40" y1="1862.10" x2="265.50" y2="2202.50" stroke="#edbccd" stroke-width="5.00"/>
<line x1="376.40" y1="1862.10" x2="376.60" y2="2354.40" stroke="#edbccd" stroke-width="5.00"/>
<line x1="376.40" y1="1862.10" x2="555.10" y2="2412.80" stroke="#edbccd" stroke-width="5.00"/>
<line x1="265.50" y1="2014.60" x2="845.20" y2="2202.10" stroke="#d6d4ec" stroke-width="4.50"/>
<line x1="265.50" y1="2202.50" x2="845.20" y2="2202.10" stroke="#d6d4ec" stroke-width="4.50"/>
<line x1="845.20" y1="2202.10" x2="376.60" y2="2354.40" stroke="#d6d4ec" stroke-width="4.50"/>
<line x1="845.20" y1="2202.10" x2="555.10" y2="2412.80" stroke="#d6d4ec" stroke-width="4.50"/>
<line x1="265.50" y1="2014.60" x2="265.50" y2="2202.50" stroke="#4f5ab3" stroke-width="1.00"/>
<line x1="265.50" y1="2014.60" x2="376.60" y2="2354.40" stroke="#4f5ab3" stroke-width="1.00"/>
<line x1="265.50" y1="2014.60" x2="555.10" y2="2412.80" stroke="#4f5ab3" stroke-width="1.00"/>
<line x1="265.50" y1="2202.50" x2="376.60" y2="2354.40" stroke="#4f5ab3" stroke-width="1.00"/>
<line x1="265.50" y1="2202.50" x2="555.10" y2="2412.80" stroke="#4f5ab3" stroke-width="1.00"/>
<line x1="376.60" y1="2354.40" x2="555.10" y2="2412.80" stroke="#4f5ab3" stroke-width="1.00"/>
<line x1="844.80" y1="2014.80" x2="845.20" y2="2202.10" stroke="#4f5ab3" stroke-width="1.00"/>
<line x1="844.80" y1="2014.80" x2="748.80" y2="2304.20" stroke="#4f5ab3" stroke-width="1.00"/>
<line x1="845.20" y1="2202.10" x2="748.80" y2="2304.20" stroke="#4f5ab3" stroke-width="1.00"/>
<text x="215.84" y="1786.60" font-size="27.50" fill="#0a0606">Biosynthesis_of_various_secondary_metabolites_part1</text>
<text x="270.24" y="1837.80" font-size="27.50" fill="#0a0606">Faecalibacterium</text>
<text x="641.85" y="1844.20" font-size="27.50" fill="#0a0606">Sphingomonas</text>
<text x="116.08" y="1989.00" font-size="27.50" fill="#0a0606">Th17_cell_differentiation</text>
<text x="592.85" y="1994.30" font-size="27.50" fill="#0a0606">Acarbose_and_validamycin_biosynthesis</text>
<text x="108.86" y="2177.00" font-size="27.50" fill="#0a0606">IL_17_signaling_pathway</text>
<text x="624.14" y="2175.30" font-size="27.50" fill="#0a0606">Polyketide_sugar_unit_biosynthesis</text>
<text x="458.14" y="2285.40" font-size="27.50" fill="#0a0606">Biosynthesis_of_vancomycin_group_antibiotics</text>
<text x="140.95" y="2328.20" font-size="27.50" fill="#0a0606">Antigen_processing_and_presentation</text>
<text x="398.84" y="2386.90" font-size="27.50" fill="#0a0606">Nitrotoluene_degradation</text>
<polygon points="555.20,1794.55 565.45,1814.05 544.95,1814.05" fill="#cd1439"/>
<circle cx="376.40" cy="1862.10" r="16.50" fill="#1b3592"/>
<circle cx="734.20" cy="1861.90" r="10.00" fill="#1b3592"/>
<polygon points="265.50,1997.10 283.50,2032.10 247.50,2032.10" fill="#cd1439"/>
<polygon points="844.80,2003.05 856.95,2026.55 832.65,2026.55" fill="#cd1439"/>
<polygon points="265.50,2184.00 284.00,2221.00 247.00,2221.00" fill="#cd1439"/>
<polygon points="845.20,2181.60 866.05,2222.60 824.35,2222.60" fill="#cd1439"/>
<polygon points="748.80,2292.70 761.65,2315.70 735.95,2315.70" fill="#cd1439"/>
<polygon points="376.60,2336.70 394.85,2372.10 358.35,2372.10" fill="#cd1439"/>
<polygon points="555.10,2394.80 573.90,2430.80 536.30,2430.80" fill="#cd1439"/>
<line x1="1481.20" y1="1925.80" x2="1380.00" y2="2044.20" stroke="#4f5ab3" stroke-width="1.00"/>
<line x1="1592.10" y1="1822.10" x2="1820.60" y2="1901.50" stroke="#4f5ab3" stroke-width="1.00"/>
<line x1="1592.10" y1="1822.10" x2="1923.60" y2="2044.00" stroke="#4f5ab3" stroke-width="1.00"/>
<line x1="1592.10" y1="1822.10" x2="1483.00" y2="2363.00" stroke="#4f5ab3" stroke-width="1.00"/>
<line x1="1592.10" y1="1822.10" x2="1685.00" y2="2429.70" stroke="#4f5ab3" stroke-width="1.00"/>
<line x1="1592.10" y1="1822.10" x2="1857.80" y2="2308.50" stroke="#4f5ab3" stroke-width="1.00"/>
<line x1="1592.10" y1="1822.10" x2="1925.50" y2="2221.20" stroke="#4f5ab3" stroke-width="1.00"/>
<line x1="1820.60" y1="1901.50" x2="1483.00" y2="2363.00" stroke="#4f5ab3" stroke-width="1.00"/>
<line x1="1820.60" y1="1901.50" x2="1685.00" y2="2429.70" stroke="#4f5ab3" stroke-width="1.00"/>
<line x1="1820.60" y1="1901.50" x2="1857.80" y2="2308.50" stroke="#4f5ab3" stroke-width="1.00"/>
<line x1="1820.60" y1="1901.50" x2="1925.50" y2="2221.20" stroke="#4f5ab3" stroke-width="1.00"/>
<line x1="1820.60" y1="1901.50" x2="1923.60" y2="2044.00" stroke="#4f5ab3" stroke-width="1.00"/>
<line x1="1923.60" y1="2044.00" x2="1483.00" y2="2363.00" stroke="#4f5ab3" stroke-width="1.00"/>
<line x1="1923.60" y1="2044.00" x2="1685.00" y2="2429.70" stroke="#4f5ab3" stroke-width="1.00"/>
<line x1="1923.60" y1="2044.00" x2="1857.80" y2="2308.50" stroke="#4f5ab3" stroke-width="1.00"/>
<line x1="1923.60" y1="2044.00" x2="1925.50" y2="2221.20" stroke="#4f5ab3" stroke-width="1.00"/>
<line x1="1925.50" y1="2221.20" x2="1483.00" y2="2363.00" stroke="#4f5ab3" stroke-width="1.00"/>
<line x1="1925.50" y1="2221.20" x2="1685.00" y2="2429.70" stroke="#4f5ab3" stroke-width="1.00"/>
<line x1="1925.50" y1="2221.20" x2="1857.80" y2="2308.50" stroke="#4f5ab3" stroke-width="1.00"/>
<line x1="1857.80" y1="2308.50" x2="1483.00" y2="2363.00" stroke="#4f5ab3" stroke-width="1.00"/>
<line x1="1857.80" y1="2308.50" x2="1685.00" y2="2429.70" stroke="#4f5ab3" stroke-width="1.00"/>
<line x1="1483.00" y1="2363.00" x2="1685.00" y2="2429.70" stroke="#4f5ab3" stroke-width="1.00"/>
<line x1="1380.00" y1="2221.00" x2="1923.60" y2="2044.00" stroke="#dc3171" stroke-width="8.50"/>
<line x1="1380.00" y1="2221.00" x2="1857.80" y2="2308.50" stroke="#dc3171" stroke-width="8.50"/>
<line x1="1380.00" y1="2221.00" x2="1483.00" y2="2363.00" stroke="#dc3171" stroke-width="8.50"/>
<line x1="1380.00" y1="2221.00" x2="1685.00" y2="2429.70" stroke="#dc3171" stroke-width="8.50"/>
<text x="1355.75" y="1798.20" font-size="25.90" fill="#0a0606">Acarbose_and_validamycin_biosynthesis</text>
<text x="1613.38" y="1877.00" font-size="25.90" fill="#0a0606">Polyketide_sugar_unit_biosynthesis</text>
<text x="1251.58" y="1908.50" font-size="25.90" fill="#0a0606">RIG_I_like_receptor_signaling_pathway</text>
<text x="1209.41" y="2027.90" font-size="25.90" fill="#0a0606">Insect_hormone_biosynthesis</text>
<text x="1776.08" y="2017.60" font-size="25.90" fill="#0a0606">Nitrotoluene_degradation</text>
<text x="1288.78" y="2199.40" font-size="25.90" fill="#0a0606">Bifidobacterium</text>
<text x="1652.08" y="2196.40" font-size="25.90" fill="#0a0606">Biosynthesis_of_vancomycin_group_antibiotics</text>
<text x="1637.25" y="2283.00" font-size="25.90" fill="#0a0606">Antigen_processing_and_presentation</text>
<text x="1343.02" y="2337.60" font-size="25.90" fill="#0a0606">Th17_cell_differentiation</text>
<text x="1537.01" y="2402.40" font-size="25.90" fill="#0a0606">IL_17_signaling_pathway</text>
<polygon points="1592.10,1805.45 1610.25,1838.75 1573.95,1838.75" fill="#cd1439"/>
<polygon points="1820.60,1885.45 1838.20,1917.55 1803.00,1917.55" fill="#cd1439"/>
<polygon points="1481.20,1917.60 1490.35,1934.00 1472.05,1934.00" fill="#cd1439"/>
<polygon points="1380.00,2035.70 1389.00,2052.70 1371.00,2052.70" fill="#cd1439"/>
<polygon points="1923.60,2026.75 1942.70,2061.25 1904.50,2061.25" fill="#cd1439"/>
<circle cx="1380.00" cy="2221.00" r="14.00" fill="#1b3592"/>
<polygon points="1925.50,2205.45 1942.75,2236.95 1908.25,2236.95" fill="#cd1439"/>
<polygon points="1857.80,2290.30 1876.90,2326.70 1838.70,2326.70" fill="#cd1439"/>
<polygon points="1483.00,2344.80 1501.80,2381.20 1464.20,2381.20" fill="#cd1439"/>
<polygon points="1685.00,2411.50 1704.10,2447.90 1665.90,2447.90" fill="#cd1439"/>
<ellipse cx="2159.1" cy="1685.7" rx="13.9" ry="16" fill="#21449a"/>
<text x="2182.37" y="1691.80" font-size="30.80" fill="#0a0606">Bacteria</text>
<polygon points="2157,1737.2 2172,1767.1 2141.8,1767.1" fill="#e60f19"/>
<text x="2186.27" y="1763.20" font-size="30.80" fill="#0a0606">Function</text>
</svg>
</body></html>
